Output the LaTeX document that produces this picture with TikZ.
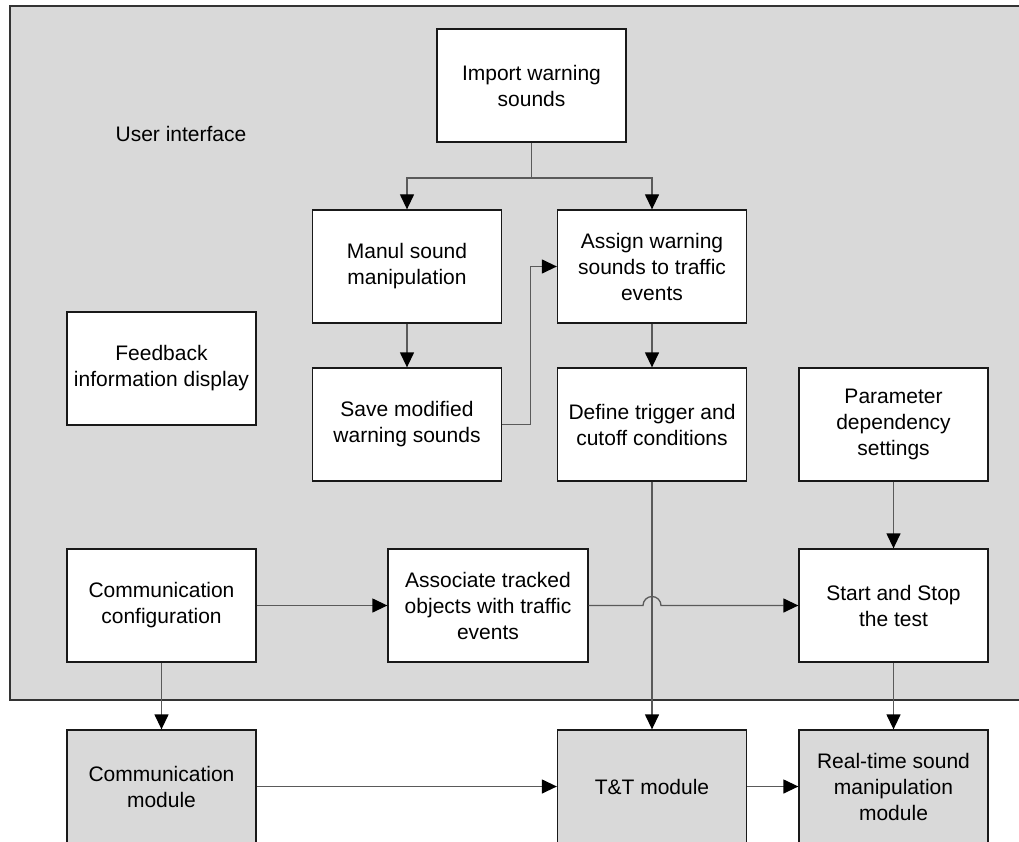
\documentclass[tikz,border=0pt]{standalone}
\usepackage{fontspec}
\setmainfont{Liberation Sans}
\usetikzlibrary{arrows.meta}
\definecolor{panel}{HTML}{D9D9D9}
\definecolor{wire}{HTML}{5A5A5A}
\begin{document}
\begin{tikzpicture}[x=1pt,y=-1pt,
  every node/.style={font=\fontsize{21}{26}\selectfont, align=center, inner sep=2pt},
  box/.style={draw=black!90, line width=1.3pt, fill=white, minimum width=189pt, minimum height=113pt},
  module/.style={box, fill=panel},
  conn/.style={draw=wire, line width=1.3pt},
  arr/.style={conn, -{Triangle[length=15pt,width=14pt,color=black]}}
]
\useasboundingbox (0,0) rectangle (1019,842);
\fill[white] (0,0) rectangle (1019,842);
\clip (0,0) rectangle (1019,842);

% user interface panel
\draw[fill=panel, draw=black!80, line width=1.3pt] (10,6) rectangle (1040,700);
\node (ui) at (181,134) {User interface};

% boxes inside the panel
\node[box] (import) at (531.5,85.5) {Import warning\\sounds};
\node[box] (manul) at (407,266.5) {Manul sound\\manipulation};
\node[box] (assign) at (652,266.5) {Assign warning\\sounds to traffic\\events};
\node[box] (save) at (407,424.5) {Save modified\\warning sounds};
\node[box] (define) at (652,424.5) {Define trigger and\\cutoff conditions};
\node[box] (param) at (893.5,424.5) {Parameter\\dependency\\settings};
\node[box] (feedback) at (161.5,368.5) {Feedback\\information display};
\node[box] (commcfg) at (161.5,605.5) {Communication\\configuration};
\node[box, minimum width=200pt] (assoc) at (488,605.5) {Associate tracked\\objects with traffic\\events};
\node[box] (start) at (893.5,605.5) {Start and Stop\\the test};

% modules below the panel
\node[module] (commmod) at (161.5,786.5) {Communication\\module};
\node[module] (tt) at (652,786.5) {T\&T module};
\node[module] (rt) at (893.5,786.5) {Real-time sound\\manipulation\\module};

% connectors
\coordinate (split) at (531.5,178);
\draw[conn] (import.south) -- (split);
\draw[arr] (split) -| (manul.north);
\draw[arr] (split) -| (assign.north);
\draw[arr] (manul.south) -- (save.north);
\draw[arr] (save.east) -- ++(28pt,0pt) |- (assign.west);
\draw[arr] (assign.south) -- (define.north);
\draw[arr] (define.south) -- (tt.north);
\draw[arr] (param.south) -- (start.north);
\draw[arr] (commcfg.east) -- (assoc.west);
\coordinate (hop) at (assoc.east -| define.south);
\draw[arr] (assoc.east) -- ([xshift=-9pt]hop) arc[start angle=180, end angle=0, radius=9pt] -- (start.west);
\draw[arr] (commcfg.south) -- (commmod.north);
\draw[arr] (start.south) -- (rt.north);
\draw[arr] (commmod.east) -- (tt.west);
\draw[arr] (tt.east) -- (rt.west);
\end{tikzpicture}
\end{document}
